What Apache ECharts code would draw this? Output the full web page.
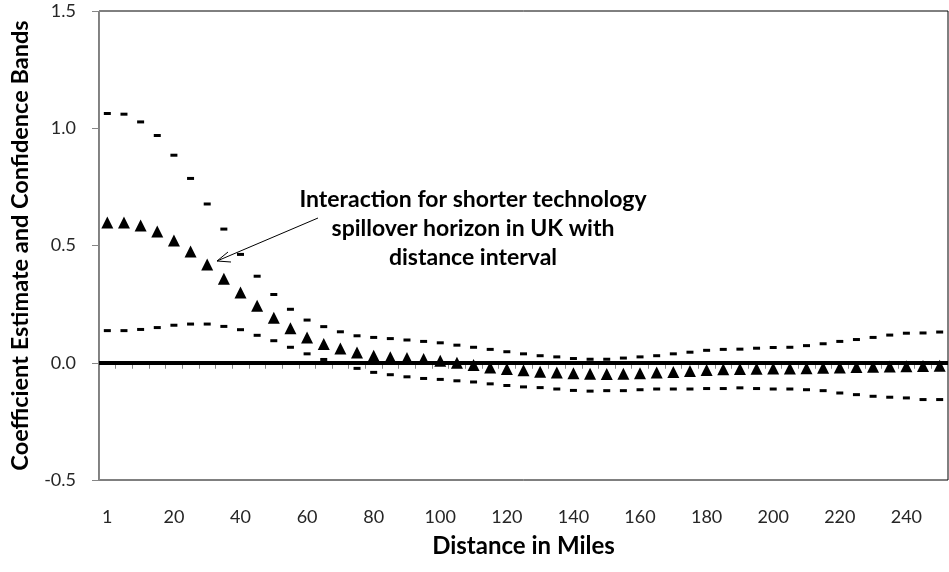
<!DOCTYPE html>
<html>
<head>
<meta charset="utf-8">
<script src="https://cdn.jsdelivr.net/npm/echarts@6/dist/echarts.min.js"></script>
<style>
html,body{margin:0;padding:0;background:#fff;}
#chart{width:949px;height:572px;}
</style>
</head>
<body>
<div id="chart"></div>
<script>
var categories = ['1','5','10','15','20','25','30','35','40','45','50','55','60','65','70','75','80','85','90','95','100','105','110','115','120','125','130','135','140','145','150','155','160','165','170','175','180','185','190','195','200','205','210','215','220','225','230','235','240','245','250'];

var estimate = [0.598,0.598,0.585,0.560,0.521,0.474,0.419,0.358,0.300,0.243,0.192,0.147,0.108,0.080,0.061,0.044,0.030,0.023,0.020,0.016,0.009,0.000,-0.010,-0.020,-0.027,-0.032,-0.038,-0.042,-0.045,-0.047,-0.048,-0.047,-0.045,-0.042,-0.039,-0.035,-0.031,-0.028,-0.027,-0.026,-0.025,-0.024,-0.023,-0.021,-0.020,-0.018,-0.017,-0.016,-0.015,-0.014,-0.013];

var upperBand = [1.063,1.060,1.027,0.969,0.885,0.786,0.677,0.570,0.462,0.369,0.291,0.228,0.182,0.154,0.132,0.115,0.108,0.103,0.097,0.091,0.085,0.075,0.066,0.057,0.047,0.038,0.030,0.025,0.018,0.015,0.015,0.020,0.025,0.030,0.038,0.045,0.053,0.057,0.058,0.062,0.065,0.066,0.073,0.081,0.091,0.099,0.108,0.118,0.126,0.127,0.131];

var lowerBand = [0.137,0.137,0.142,0.150,0.160,0.165,0.165,0.155,0.141,0.117,0.094,0.066,0.038,0.014,-0.002,-0.024,-0.041,-0.051,-0.060,-0.067,-0.071,-0.077,-0.082,-0.090,-0.097,-0.103,-0.106,-0.112,-0.118,-0.121,-0.119,-0.119,-0.115,-0.112,-0.112,-0.112,-0.110,-0.110,-0.107,-0.110,-0.112,-0.112,-0.115,-0.119,-0.129,-0.136,-0.143,-0.147,-0.150,-0.157,-0.157];

var yTicks = {min: -0.5, max: 1.5, interval: 0.5};

var annotationText = 'Interaction for shorter technology\nspillover horizon in UK with\ndistance interval';
var xTitle = 'Distance in Miles';
var yTitle = 'Coefficient Estimate and Confidence Bands';

var FONT = 'Lato, "Open Sans", sans-serif';
var chart = echarts.init(document.getElementById('chart'), null, {renderer: 'canvas'});

var option = {
  animation: false,
  backgroundColor: '#fff',
  grid: {left: 98, right: 1, top: 11, bottom: 92, show: true, borderColor: '#000', borderWidth: 1},
  xAxis: {
    type: 'category',
    data: categories,
    boundaryGap: true,
    name: xTitle,
    nameLocation: 'middle',
    nameGap: 54,
    nameTextStyle: {fontFamily: FONT, fontWeight: 'bold', fontSize: 24, color: '#000'},
    axisLine: {lineStyle: {color: '#868686', width: 1}},
    axisTick: {show: true, interval: 0, length: 6, lineStyle: {color: '#868686'}},
    axisLabel: {interval: 3, margin: 28, fontFamily: FONT, fontSize: 18, color: '#262626'},
    splitLine: {show: false}
  },
  yAxis: {
    type: 'value',
    min: yTicks.min,
    max: yTicks.max,
    interval: yTicks.interval,
    name: yTitle,
    nameLocation: 'middle',
    nameGap: 67,
    nameTextStyle: {fontFamily: FONT, fontWeight: 'bold', fontSize: 23.5, color: '#000'},
    axisLine: {show: true, lineStyle: {color: '#868686', width: 1}},
    axisTick: {show: true, length: 7, lineStyle: {color: '#868686'}},
    axisLabel: {margin: 23, fontFamily: FONT, fontSize: 18, color: '#262626', formatter: function(v){return v.toFixed(1);}},
    splitLine: {show: false}
  },
  series: [
    {
      name: 'Upper',
      type: 'scatter',
      data: upperBand,
      symbol: 'rect',
      symbolSize: [7, 3],
      itemStyle: {color: '#000', opacity: 1},
      z: 3
    },
    {
      name: 'Lower',
      type: 'scatter',
      data: lowerBand,
      symbol: 'rect',
      symbolSize: [7, 3],
      itemStyle: {color: '#000', opacity: 1},
      z: 3
    },
    {
      name: 'Estimate',
      type: 'scatter',
      data: estimate,
      symbol: 'triangle',
      symbolSize: [12, 12],
      itemStyle: {color: '#000', opacity: 1},
      z: 4,
      markLine: {
        silent: true,
        symbol: 'none',
        label: {show: false},
        lineStyle: {color: '#000', width: 4, type: 'solid', opacity: 1},
        data: [{yAxis: 0}],
        z: 2
      }
    }
  ],
  graphic: [
    {
      type: 'text',
      x: 473,
      y: 185,
      z: 10,
      style: {
        text: annotationText,
        x: 0,
        y: 0,
        textAlign: 'center',
        textVerticalAlign: 'top',
        font: 'bold 23px ' + FONT,
        lineHeight: 29,
        fill: '#000'
      }
    },
    {
      type: 'polyline',
      z: 10,
      shape: {points: [[318, 218], [217, 261]]},
      style: {stroke: '#000', lineWidth: 1, fill: null}
    },
    {
      type: 'polyline',
      z: 10,
      shape: {points: [[228, 252], [217, 261], [231, 262]]},
      style: {stroke: '#000', lineWidth: 1, fill: null}
    }
  ]
};
chart.setOption(option);
</script>
</body>
</html>
